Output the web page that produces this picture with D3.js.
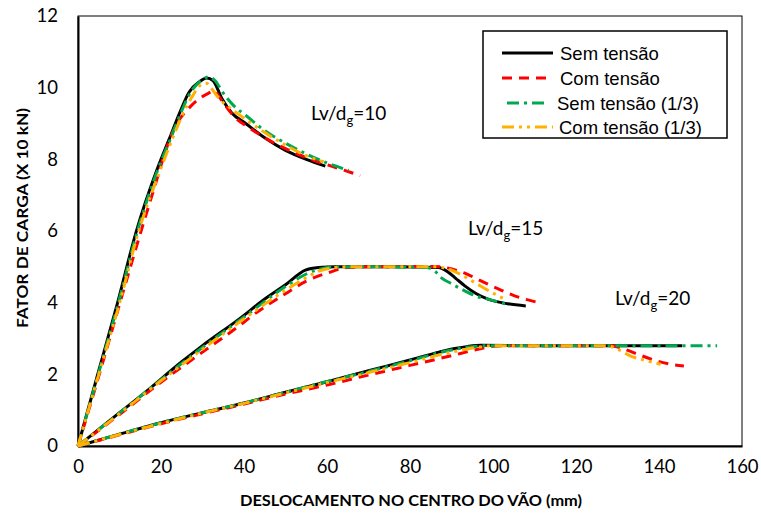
<!DOCTYPE html>
<html><head><meta charset="utf-8">
<script src="https://cdn.jsdelivr.net/npm/d3@7"></script>
<style>body{margin:0;background:#fff}svg{display:block}</style>
</head><body><svg id="c" width="761" height="513"></svg>
<script>
// ---- data (x: deslocamento mm, y: fator de carga x10kN) ----
const xTicks = [0,20,40,60,80,100,120,140,160];
const yTicks = [0,2,4,6,8,10,12];
const seriesNames = ["Sem tensão","Com tensão","Sem tensão (1/3)","Com tensão (1/3)"];
const groupLabels = ["10","15","20"];

const sem10 = [[0,0],[5,2.1],[9.5,3.98],[14,5.97],[19,7.7],[22,8.57],[24.5,9.3],[26.8,9.88],[29.2,10.16],[31,10.27],[32.5,10.2],[34.7,9.69],[37,9.3],[40.4,9.0],[45,8.6],[50,8.25],[55,8.0],[59.6,7.81]];
const com10 = [[0,0],[5,1.95],[10,3.95],[15.2,6.0],[18.8,7.36],[21,8.2],[23.6,8.95],[26.5,9.4],[29.2,9.69],[31.5,9.85],[32.8,9.92],[34,9.75],[35.5,9.5],[38,9.15],[41,8.9],[45,8.6],[50,8.3],[55,8.05],[60,7.85],[64,7.7],[68,7.55]];
const sem13_10 = [[0,0],[5,2.05],[9.7,3.98],[14.2,5.95],[19.2,7.7],[22.2,8.55],[24.8,9.3],[27,9.85],[29.5,10.18],[31.6,10.3],[33,10.2],[35,9.85],[37.5,9.5],[40.4,9.23],[45,8.8],[50,8.45],[55,8.15],[60,7.9],[65.2,7.69]];
const com13_10 = [[0,0],[5,2.0],[10,3.98],[14.5,5.95],[19.5,7.6],[22.5,8.5],[25,9.2],[27.5,9.75],[29.9,10.1],[31,10.12],[32,10.0],[34,9.7],[37,9.4],[40,9.15],[45,8.75],[50,8.4],[55,8.1],[59.2,7.93]];

const sem15 = [[0,0],[10,0.93],[15.6,1.44],[25,2.35],[30,2.8],[38.8,3.54],[45,4.1],[50,4.5],[54.8,4.91],[58,4.98],[62,5.0],[75,5.0],[86.8,4.98],[89.2,4.85],[91,4.68],[93.2,4.47],[96,4.25],[98.8,4.1],[103,3.98],[107.9,3.91]];
const com15 = [[0,0],[10,0.88],[20,1.78],[30,2.62],[38.8,3.35],[41.9,3.63],[50,4.25],[55,4.6],[60.4,4.84],[65,4.98],[70,5.0],[86,5.01],[88.5,4.98],[91.6,4.89],[94,4.78],[97.1,4.61],[101,4.4],[105.2,4.19],[110.3,4.02]];
const sem13_15 = [[0,0],[10,0.92],[20,1.85],[30,2.75],[40,3.6],[50,4.45],[55,4.8],[58,4.93],[61,4.99],[70,5.0],[84,4.98],[86,4.88],[87.5,4.7],[90,4.53],[93.2,4.33],[96,4.18],[98.8,4.1],[103.1,3.96]];
const com13_15 = [[0,0],[10,0.9],[20,1.82],[30,2.7],[40,3.55],[50,4.35],[55,4.7],[58,4.88],[61,4.97],[65,5.0],[86,5.0],[89.2,4.94],[92,4.8],[95.6,4.56],[99,4.33],[102.8,4.1]];

const sem20 = [[0,0],[10,0.33],[20,0.65],[30,0.93],[40,1.2],[50,1.5],[61.2,1.83],[70,2.1],[80,2.4],[87,2.62],[90.8,2.72],[94,2.78],[97.1,2.81],[110,2.8],[130,2.8],[145.6,2.8]];
const com20 = [[0,0],[10,0.31],[20,0.62],[30,0.9],[40,1.17],[50,1.45],[60,1.7],[70,1.98],[80,2.25],[90,2.52],[96.4,2.7],[100,2.78],[102.8,2.8],[128.4,2.8],[131,2.73],[134,2.6],[137,2.47],[139.6,2.37],[143,2.28],[146,2.23]];
const sem13_20 = [[0,0],[10,0.33],[20,0.65],[30,0.93],[40,1.2],[50,1.5],[60,1.8],[70,2.08],[80,2.38],[90,2.68],[95,2.77],[99,2.8],[154,2.8]];
const com13_20 = [[0,0],[10,0.32],[20,0.63],[30,0.92],[40,1.19],[50,1.48],[60,1.77],[70,2.05],[80,2.33],[90,2.62],[96,2.75],[100,2.8],[127.6,2.8],[130,2.7],[133.2,2.51],[137,2.38],[140.4,2.28]];

// ---- layout ----
const svg = d3.select("#c");
const L = 78, R = 742, T = 16, B = 446;
const x = d3.scaleLinear().domain([0,160]).range([L,R]);
const y = d3.scaleLinear().domain([0,12]).range([B,T]);

const styles = [
  {color:"#000000", dash:null},
  {color:"#FF0000", dash:"10,7"},
  {color:"#00A850", dash:"12,5,3,5"},
  {color:"#FFB000", dash:"12,5,3,5,3,5"}
];

// frame
svg.append("rect").attr("x",L).attr("y",T).attr("width",R-L).attr("height",B-T)
  .attr("fill","none").attr("stroke","#000").attr("stroke-width",1);

// axes
const xAxis = d3.axisBottom(x).tickValues(xTicks).tickSize(0).tickPadding(14);
const gx = svg.append("g").attr("transform",`translate(0,${B})`).call(xAxis);
gx.select(".domain").attr("stroke","#000").attr("stroke-width",2);
gx.selectAll("text").attr("font-family","Lato, 'Open Sans', sans-serif").attr("font-size",18.5).attr("fill","#000");

const yAxis = d3.axisLeft(y).tickValues(yTicks).tickSize(0).tickPadding(20);
const gy = svg.append("g").attr("transform",`translate(${L},0)`).call(yAxis);
gy.select(".domain").attr("stroke","#000").attr("stroke-width",2);
gy.selectAll("text").attr("font-family","Lato, 'Open Sans', sans-serif").attr("font-size",18.5).attr("fill","#000");

// axis titles
svg.append("text").attr("x",411).attr("y",506).attr("text-anchor","middle")
  .attr("font-family","Lato, sans-serif").attr("font-weight","bold").attr("font-size",15)
  .attr("textLength",342).attr("lengthAdjust","spacingAndGlyphs")
  .text("DESLOCAMENTO NO CENTRO DO VÃO (mm)");
svg.append("text").attr("transform","translate(28,218) rotate(-90)").attr("text-anchor","middle")
  .attr("font-family","Lato, sans-serif").attr("font-weight","bold").attr("font-size",15)
  .attr("textLength",220).attr("lengthAdjust","spacingAndGlyphs")
  .text("FATOR DE CARGA (X 10 kN)");

// curves
const line = d3.line().x(d=>x(d[0])).y(d=>y(d[1])).curve(d3.curveMonotoneX);
const groups = [
  [sem10, com10, sem13_10, com13_10],
  [sem15, com15, sem13_15, com13_15],
  [sem20, com20, sem13_20, com13_20]
];
for (let s = 0; s < 4; s++) {
  groups.forEach(g => {
    svg.append("path").datum(g[s]).attr("d", line)
      .attr("fill","none").attr("stroke",styles[s].color).attr("stroke-width",3)
      .attr("stroke-dasharray",styles[s].dash).attr("stroke-linejoin","round");
  });
}

// group labels
const labelPos = [[311,120],[468,235],[615,305]];
groupLabels.forEach((v,i) => {
  const t = svg.append("text").attr("x",labelPos[i][0]).attr("y",labelPos[i][1])
    .attr("font-family","Lato, 'Open Sans', sans-serif").attr("font-size",19).attr("fill","#000");
  t.append("tspan").text("Lv/d");
  t.append("tspan").attr("font-size",13).attr("dy",5).text("g");
  t.append("tspan").attr("dy",-5).text("=" + v);
});

// legend
svg.append("rect").attr("x",483).attr("y",31).attr("width",244).attr("height",107)
  .attr("fill","#fff").attr("stroke","#000").attr("stroke-width",1.5);
const legRows = [53,78,103,127];
const legLine = [[502,553,560],[502,553,560],[507,545,557],[502,553,559]];
seriesNames.forEach((n,i) => {
  svg.append("line").attr("x1",legLine[i][0]).attr("x2",legLine[i][1])
    .attr("y1",legRows[i]).attr("y2",legRows[i])
    .attr("stroke",styles[i].color).attr("stroke-width",3).attr("stroke-dasharray",styles[i].dash);
  svg.append("text").attr("x",legLine[i][2]).attr("y",legRows[i]+6.6)
    .attr("font-family","'Liberation Sans', Arial, sans-serif").attr("font-size",18.5).attr("fill","#000")
    .text(n);
});
</script></body></html>
